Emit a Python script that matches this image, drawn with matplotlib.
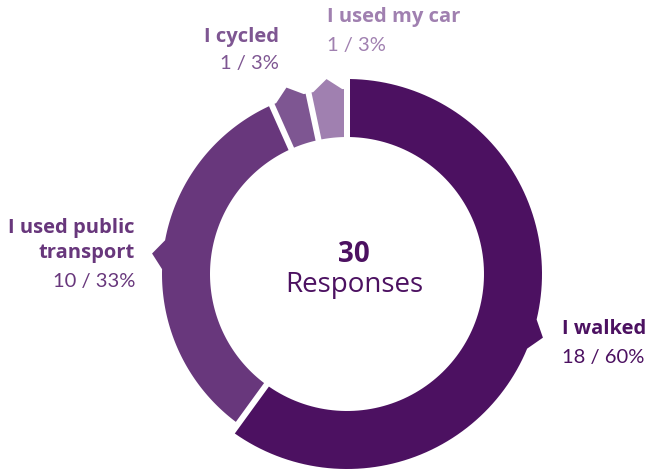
import numpy as np
import matplotlib
matplotlib.use("Agg")
import matplotlib.pyplot as plt
from matplotlib.patches import Polygon

# Survey answers: how did you travel?
categories = ["I walked", "I used public transport", "I cycled", "I used my car"]
counts = [18, 10, 1, 1]
percent_labels = ["18 / 60%", "10 / 33%", "1 / 3%", "1 / 3%"]
colors = ["#4c1161", "#68377c", "#7e5692", "#a080b0"]
text_colors = ["#4c1161", "#68377c", "#7e5692", "#a080b0"]
total = sum(counts)

W, H = 648, 472
fig = plt.figure(figsize=(W / 100, H / 100), dpi=100)
ax = fig.add_axes([0, 0, 1, 1])
ax.set_xlim(0, W)
ax.set_ylim(H, 0)
ax.set_aspect("equal")
ax.axis("off")

cx, cy = 347, 274
r_in = 137
r_out = [195, 185, 185, 185]   # largest share drawn slightly wider
half_gap = 3.0
tip_len = 11
tip_half = 4.5  # degrees


def pt(r, deg):
    a = np.radians(deg)
    return cx + r * np.cos(a), cy - r * np.sin(a)


cum = 0
for i, c in enumerate(counts):
    hi = 90 - 360 * cum / total
    cum += c
    lo = 90 - 360 * cum / total
    mid = (hi + lo) / 2
    R = r_out[i]
    go = np.degrees(np.arcsin(half_gap / R))
    gi = np.degrees(np.arcsin(half_gap / r_in))
    pts = []
    # outer arc with the pointer notch at its middle
    a1 = np.linspace(hi - go, mid + tip_half, 60)
    pts += [pt(R, a) for a in a1]
    pts.append(pt(R + tip_len, mid))
    a2 = np.linspace(mid - tip_half, lo + go, 60)
    pts += [pt(R, a) for a in a2]
    # inner arc back
    a3 = np.linspace(lo + gi, hi - gi, 120)
    pts += [pt(r_in, a) for a in a3]
    ax.add_patch(Polygon(pts, closed=True, facecolor=colors[i],
                         edgecolor="none", antialiased=True))

title_font = "Open Sans"
num_font = "Lato"
bold_size = 14.5
reg_size = 14.5

# I walked
ax.text(562, 329, "I walked", fontsize=bold_size, fontweight="bold",
        color=text_colors[0], family=title_font, ha="left", va="center")
ax.text(562, 357, percent_labels[0], fontsize=reg_size,
        color=text_colors[0], family=num_font, ha="left", va="center")

# I used public transport
ax.text(135, 228, "I used public", fontsize=bold_size, fontweight="bold",
        color=text_colors[1], family=title_font, ha="right", va="center")
ax.text(135, 253, "transport", fontsize=bold_size, fontweight="bold",
        color=text_colors[1], family=title_font, ha="right", va="center")
ax.text(135, 281, percent_labels[1], fontsize=reg_size,
        color=text_colors[1], family=num_font, ha="right", va="center")

# I cycled
ax.text(279, 37, "I cycled", fontsize=bold_size, fontweight="bold",
        color=text_colors[2], family=title_font, ha="right", va="center")
ax.text(279, 64, percent_labels[2], fontsize=reg_size,
        color=text_colors[2], family=num_font, ha="right", va="center")

# I used my car
ax.text(327, 17, "I used my car", fontsize=bold_size, fontweight="bold",
        color=text_colors[3], family=title_font, ha="left", va="center")
ax.text(327, 45, percent_labels[3], fontsize=reg_size,
        color=text_colors[3], family=num_font, ha="left", va="center")

# Centre total
ax.text(354, 255, str(total), fontsize=20, fontweight="bold",
        color=text_colors[0], family=title_font, ha="center", va="center")
ax.text(354, 285, "Responses", fontsize=20,
        color=text_colors[0], family=title_font, ha="center", va="center")

fig.savefig("out.png", dpi=100)
